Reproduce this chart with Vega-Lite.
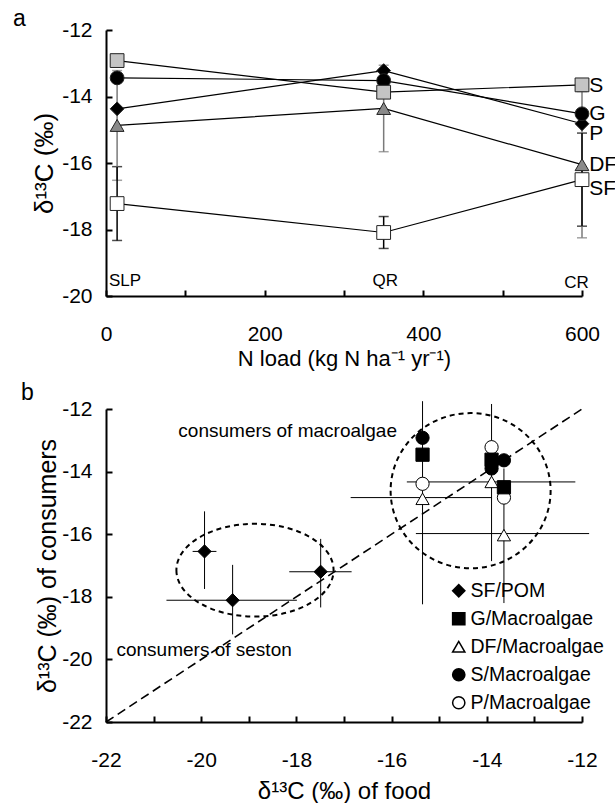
{
  "$schema": "https://vega.github.io/schema/vega-lite/v6.json",
  "background": "white",
  "padding": {"left": 13, "top": 8, "right": 0, "bottom": 0},
  "config": {
    "font": "Liberation Sans",
    "view": {"stroke": null},
    "axis": {"domainColor": "black", "domainWidth": 2, "tickColor": "black", "tickWidth": 2, "tickSize": -6, "labelColor": "black", "labelFontSize": 21, "titleFontSize": 22, "titleFontWeight": "normal", "titleColor": "black", "grid": false, "labelFlush": false, "labelOverlap": false, "titleBaseline": "middle"},
    "axisY": {"labelPadding": 20},
    "axisX": {"labelPadding": 33},
    "title": {"fontSize": 23, "fontWeight": "normal", "anchor": "start", "frame": "bounds", "color": "black"},
    "concat": {"spacing": 13}
  },
  "datasets": {
    "aPts": [
      {"series": "SF", "site": "SLP", "nload": 14, "d13c": -17.22},
      {"series": "SF", "site": "QR", "nload": 350, "d13c": -18.09},
      {"series": "SF", "site": "CR", "nload": 600, "d13c": -16.5},
      {"series": "DF", "site": "SLP", "nload": 14, "d13c": -14.87},
      {"series": "DF", "site": "QR", "nload": 350, "d13c": -14.36},
      {"series": "DF", "site": "CR", "nload": 600, "d13c": -16.05},
      {"series": "P", "site": "SLP", "nload": 14, "d13c": -14.37},
      {"series": "P", "site": "QR", "nload": 350, "d13c": -13.22},
      {"series": "P", "site": "CR", "nload": 600, "d13c": -14.82},
      {"series": "G", "site": "SLP", "nload": 14, "d13c": -13.44},
      {"series": "G", "site": "QR", "nload": 350, "d13c": -13.52},
      {"series": "G", "site": "CR", "nload": 600, "d13c": -14.52},
      {"series": "S", "site": "SLP", "nload": 14, "d13c": -12.92},
      {"series": "S", "site": "QR", "nload": 350, "d13c": -13.87},
      {"series": "S", "site": "CR", "nload": 600, "d13c": -13.65}
    ],
    "aErr": [
      {"series": "DF", "nload": 14, "lo": -16.52, "hi": -13.22},
      {"series": "DF", "nload": 350, "lo": -15.66, "hi": -13.06},
      {"series": "DF", "nload": 600, "lo": -18.25, "hi": -13.85},
      {"series": "SF", "nload": 14, "lo": -18.33, "hi": -16.11},
      {"series": "SF", "nload": 350, "lo": -18.57, "hi": -17.61},
      {"series": "SF", "nload": 600, "lo": -17.9, "hi": -15.1}
    ],
    "aSeriesLabels": [
      {"label": "S", "nload": 609, "d13c": -13.68},
      {"label": "G", "nload": 609, "d13c": -14.54},
      {"label": "P", "nload": 609, "d13c": -15.12},
      {"label": "DF", "nload": 609, "d13c": -16.06},
      {"label": "SF", "nload": 609, "d13c": -16.79}
    ],
    "aSiteLabels": [
      {"label": "SLP", "nload": 24, "d13c": -19.55},
      {"label": "QR", "nload": 352, "d13c": -19.55},
      {"label": "CR", "nload": 593, "d13c": -19.6}
    ],
    "bPts": [
      {"group": "SF/POM", "food": -17.49, "cons": -17.2},
      {"group": "SF/POM", "food": -19.34, "cons": -18.11},
      {"group": "SF/POM", "food": -19.93, "cons": -16.55},
      {"group": "DF/Macroalgae", "food": -15.35, "cons": -14.87},
      {"group": "DF/Macroalgae", "food": -13.9, "cons": -14.33},
      {"group": "DF/Macroalgae", "food": -13.64, "cons": -16.03},
      {"group": "P/Macroalgae", "food": -15.35, "cons": -14.39},
      {"group": "P/Macroalgae", "food": -13.9, "cons": -13.22},
      {"group": "P/Macroalgae", "food": -13.64, "cons": -14.83},
      {"group": "G/Macroalgae", "food": -15.35, "cons": -13.46},
      {"group": "G/Macroalgae", "food": -13.9, "cons": -13.62},
      {"group": "G/Macroalgae", "food": -13.64, "cons": -14.5},
      {"group": "S/Macroalgae", "food": -15.35, "cons": -12.92},
      {"group": "S/Macroalgae", "food": -13.9, "cons": -13.9},
      {"group": "S/Macroalgae", "food": -13.64, "cons": -13.64}
    ],
    "bVert": [
      {"food": -19.93, "lo": -17.75, "hi": -15.27},
      {"food": -19.34, "lo": -19.2, "hi": -16.98},
      {"food": -17.49, "lo": -18.34, "hi": -16.15},
      {"food": -15.35, "lo": -18.24, "hi": -11.75},
      {"food": -13.9, "lo": -16.86, "hi": -11.84},
      {"food": -13.64, "lo": -18.2, "hi": -13.9}
    ],
    "bHor": [
      {"cons": -16.55, "lo": -20.18, "hi": -19.68},
      {"cons": -18.11, "lo": -20.73, "hi": -17.99},
      {"cons": -17.2, "lo": -18.15, "hi": -16.84},
      {"cons": -14.83, "lo": -16.86, "hi": -13.9},
      {"cons": -14.33, "lo": -15.68, "hi": -12.14},
      {"cons": -15.98, "lo": -15.49, "hi": -11.85}
    ],
    "bDiag": [{"x1": -22, "y1": -22, "x2": -12, "y2": -12}],
    "bEll1": [{"cx": -18.87, "cy": -17.15}],
    "bEll2": [{"cx": -14.34, "cy": -14.61}],
    "bText": [
      {"label": "consumers of macroalgae", "food": -20.48, "cons": -12.7},
      {"label": "consumers of seston", "food": -21.78, "cons": -19.71}
    ]
  },
  "vconcat": [
    {
      "width": 476,
      "height": 266,
      "title": {"text": "a", "dx": -18, "offset": -12},
      "layer": [
        {
          "data": {"name": "aErr"},
          "mark": {"type": "errorbar", "ticks": {"size": 10}, "thickness": 1.5},
          "encoding": {
            "x": {"field": "nload", "type": "quantitative", "scale": {"domain": [0, 600], "nice": false}, "axis": {"title": "N load (kg N ha⁻¹ yr⁻¹)", "titleY": 62, "values": [0, 100, 200, 300, 400, 500, 600], "labelExpr": "datum.value % 200 === 0 ? '' + datum.value : ''"}},
            "y": {"field": "lo", "type": "quantitative", "scale": {"domain": [-20, -12], "nice": false}, "axis": {"title": "δ¹³C (‰)", "titleFontSize": 26, "titleX": -62, "values": [-20, -19, -18, -17, -16, -15, -14, -13, -12], "labelExpr": "datum.value % 2 === 0 ? '' + datum.value : ''"}},
            "y2": {"field": "hi"},
            "color": {"field": "series", "type": "nominal", "scale": {"domain": ["DF", "SF"], "range": ["#7a7a7a", "#000000"]}, "legend": null}
          }
        },
        {
          "data": {"name": "aPts"},
          "mark": {"type": "line", "color": "black", "strokeWidth": 1.2},
          "encoding": {
            "x": {"field": "nload", "type": "quantitative", "scale": {"domain": [0, 600], "nice": false}, "title": "N load (kg N ha⁻¹ yr⁻¹)"},
            "y": {"field": "d13c", "type": "quantitative", "scale": {"domain": [-20, -12], "nice": false}, "title": "δ¹³C (‰)"},
            "detail": {"field": "series", "type": "nominal"},
            "order": {"field": "nload", "type": "quantitative"}
          }
        },
        {
          "data": {"name": "aPts"},
          "mark": {"type": "point", "filled": true, "size": 190, "opacity": 1, "stroke": "#222", "strokeWidth": 1},
          "encoding": {
            "x": {"field": "nload", "type": "quantitative", "scale": {"domain": [0, 600], "nice": false}, "title": "N load (kg N ha⁻¹ yr⁻¹)"},
            "y": {"field": "d13c", "type": "quantitative", "scale": {"domain": [-20, -12], "nice": false}, "title": "δ¹³C (‰)"},
            "shape": {"field": "series", "type": "nominal", "scale": {"domain": ["S", "G", "P", "DF", "SF"], "range": ["square", "circle", "diamond", "triangle-up", "square"]}, "legend": null},
            "fill": {"field": "series", "type": "nominal", "scale": {"domain": ["S", "G", "P", "DF", "SF"], "range": ["#c4c4c4", "#000000", "#000000", "#8a8a8a", "#ffffff"]}, "legend": null}
          }
        },
        {
          "data": {"name": "aSeriesLabels"},
          "mark": {"type": "text", "align": "left", "baseline": "middle", "fontSize": 21, "color": "black"},
          "encoding": {
            "x": {"field": "nload", "type": "quantitative", "scale": {"domain": [0, 600], "nice": false}, "title": "N load (kg N ha⁻¹ yr⁻¹)"},
            "y": {"field": "d13c", "type": "quantitative", "scale": {"domain": [-20, -12], "nice": false}, "title": "δ¹³C (‰)"},
            "text": {"field": "label"}
          }
        },
        {
          "data": {"name": "aSiteLabels"},
          "mark": {"type": "text", "align": "center", "baseline": "middle", "fontSize": 17, "color": "black"},
          "encoding": {
            "x": {"field": "nload", "type": "quantitative", "scale": {"domain": [0, 600], "nice": false}, "title": "N load (kg N ha⁻¹ yr⁻¹)"},
            "y": {"field": "d13c", "type": "quantitative", "scale": {"domain": [-20, -12], "nice": false}, "title": "δ¹³C (‰)"},
            "text": {"field": "label"}
          }
        }
      ]
    },
    {
      "width": 476,
      "height": 313,
      "title": {"text": "b", "dx": -14, "offset": -7},
      "layer": [
        {
          "data": {"name": "bDiag"},
          "mark": {"type": "rule", "color": "black", "strokeWidth": 1.6, "strokeDash": [9, 5]},
          "encoding": {
            "x": {"field": "x1", "type": "quantitative", "scale": {"domain": [-22, -12], "nice": false}, "axis": {"title": "δ¹³C (‰) of food", "titleFontSize": 24, "titleY": 69, "values": [-22, -21, -20, -19, -18, -17, -16, -15, -14, -13, -12], "labelExpr": "datum.value % 2 === 0 ? '' + datum.value : ''"}},
            "y": {"field": "y1", "type": "quantitative", "scale": {"domain": [-22, -12], "nice": false}, "axis": {"title": "δ¹³C (‰) of consumers", "titleFontSize": 25, "titleX": -59, "values": [-22, -21, -20, -19, -18, -17, -16, -15, -14, -13, -12], "labelExpr": "datum.value % 2 === 0 ? '' + datum.value : ''"}},
            "x2": {"field": "x2"},
            "y2": {"field": "y2"}
          }
        },
        {
          "data": {"name": "bEll1"},
          "mark": {"type": "point", "shape": "M-1,0A1,0.59 0 1,0 1,0A1,0.59 0 1,0 -1,0", "size": 24700, "filled": false, "stroke": "black", "strokeWidth": 2, "strokeDash": [5, 4], "opacity": 1},
          "encoding": {
            "x": {"field": "cx", "type": "quantitative", "scale": {"domain": [-22, -12], "nice": false}, "title": "δ¹³C (‰) of food"},
            "y": {"field": "cy", "type": "quantitative", "scale": {"domain": [-22, -12], "nice": false}, "title": "δ¹³C (‰) of consumers"}
          }
        },
        {
          "data": {"name": "bEll2"},
          "mark": {"type": "point", "shape": "M-1,0A1,0.97 0 1,0 1,0A1,0.97 0 1,0 -1,0", "size": 25600, "filled": false, "stroke": "black", "strokeWidth": 2, "strokeDash": [5, 4], "opacity": 1},
          "encoding": {
            "x": {"field": "cx", "type": "quantitative", "scale": {"domain": [-22, -12], "nice": false}, "title": "δ¹³C (‰) of food"},
            "y": {"field": "cy", "type": "quantitative", "scale": {"domain": [-22, -12], "nice": false}, "title": "δ¹³C (‰) of consumers"}
          }
        },
        {
          "data": {"name": "bVert"},
          "mark": {"type": "rule", "color": "black", "strokeWidth": 1},
          "encoding": {
            "x": {"field": "food", "type": "quantitative", "scale": {"domain": [-22, -12], "nice": false}, "title": "δ¹³C (‰) of food"},
            "y": {"field": "lo", "type": "quantitative", "scale": {"domain": [-22, -12], "nice": false}, "title": "δ¹³C (‰) of consumers"},
            "y2": {"field": "hi"}
          }
        },
        {
          "data": {"name": "bHor"},
          "mark": {"type": "rule", "color": "black", "strokeWidth": 1},
          "encoding": {
            "y": {"field": "cons", "type": "quantitative", "scale": {"domain": [-22, -12], "nice": false}, "title": "δ¹³C (‰) of consumers"},
            "x": {"field": "lo", "type": "quantitative", "scale": {"domain": [-22, -12], "nice": false}, "title": "δ¹³C (‰) of food"},
            "x2": {"field": "hi"}
          }
        },
        {
          "data": {"name": "bPts"},
          "mark": {"type": "point", "filled": true, "size": 175, "opacity": 1, "stroke": "black", "strokeWidth": 1},
          "encoding": {
            "x": {"field": "food", "type": "quantitative", "scale": {"domain": [-22, -12], "nice": false}, "title": "δ¹³C (‰) of food"},
            "y": {"field": "cons", "type": "quantitative", "scale": {"domain": [-22, -12], "nice": false}, "title": "δ¹³C (‰) of consumers"},
            "shape": {"field": "group", "type": "nominal", "scale": {"domain": ["SF/POM", "G/Macroalgae", "DF/Macroalgae", "S/Macroalgae", "P/Macroalgae"], "range": ["diamond", "square", "triangle-up", "circle", "circle"]}, "legend": {"orient": "none", "legendX": 343, "legendY": 172, "title": null, "labelFontSize": 19.5, "labelColor": "black", "symbolSize": 150, "rowPadding": 7, "labelOffset": 2, "padding": 0, "encode": {"symbols": {"update": {"stroke": {"value": "black"}, "strokeWidth": {"value": 1}}}}}},
            "fill": {"field": "group", "type": "nominal", "scale": {"domain": ["SF/POM", "G/Macroalgae", "DF/Macroalgae", "S/Macroalgae", "P/Macroalgae"], "range": ["#000000", "#000000", "#ffffff", "#000000", "#ffffff"]}, "legend": {"orient": "none", "legendX": 343, "legendY": 172, "title": null, "labelFontSize": 19.5, "labelColor": "black", "symbolSize": 150, "rowPadding": 7, "labelOffset": 2, "padding": 0, "encode": {"symbols": {"update": {"stroke": {"value": "black"}, "strokeWidth": {"value": 1}}}}}}
          }
        },
        {
          "data": {"name": "bText"},
          "mark": {"type": "text", "align": "left", "baseline": "middle", "fontSize": 19, "color": "black"},
          "encoding": {
            "x": {"field": "food", "type": "quantitative", "scale": {"domain": [-22, -12], "nice": false}, "title": "δ¹³C (‰) of food"},
            "y": {"field": "cons", "type": "quantitative", "scale": {"domain": [-22, -12], "nice": false}, "title": "δ¹³C (‰) of consumers"},
            "text": {"field": "label"}
          }
        }
      ]
    }
  ],
  "resolve": {"scale": {"x": "independent", "y": "independent", "shape": "independent", "fill": "independent", "color": "independent"}}
}
